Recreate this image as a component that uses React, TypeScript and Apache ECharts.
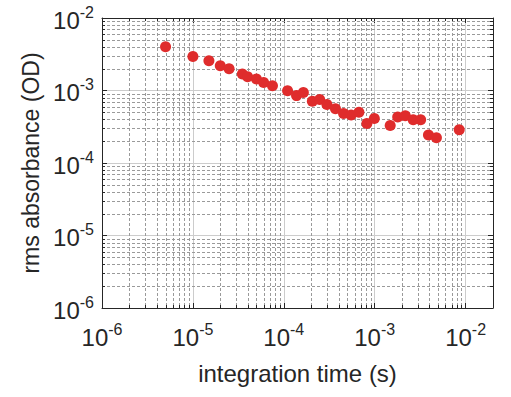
import React, { useEffect, useRef } from "react";
import * as echarts from "echarts";

const intTime = [5e-6, 1e-5, 1.5e-5, 2e-5, 2.5e-5, 3.5e-5, 4e-5, 5e-5, 6e-5, 7.5e-5, 1.1e-4, 1.38e-4, 1.64e-4, 2.06e-4, 2.48e-4, 2.98e-4, 3.7e-4, 4.54e-4, 5.5e-4, 6.7e-4, 8.2e-4, 9.9e-4, 1.48e-3, 1.79e-3, 2.17e-3, 2.65e-3, 3.2e-3, 3.9e-3, 4.77e-3, 8.5e-3];
const rmsAbs = [4.0e-3, 2.95e-3, 2.58e-3, 2.2e-3, 2.0e-3, 1.69e-3, 1.55e-3, 1.44e-3, 1.29e-3, 1.16e-3, 9.9e-4, 8.5e-4, 9.4e-4, 7.1e-4, 7.5e-4, 6.4e-4, 5.6e-4, 4.8e-4, 4.6e-4, 5.0e-4, 3.5e-4, 4.1e-4, 3.3e-4, 4.3e-4, 4.5e-4, 3.96e-4, 3.96e-4, 2.43e-4, 2.23e-4, 2.88e-4];

const xRange = [1e-6, 2e-2];
const yRange = [1e-6, 1e-2];
const xDecades = [1e-6, 1e-5, 1e-4, 1e-3, 1e-2];
const yDecades = [1e-6, 1e-5, 1e-4, 1e-3];
const minorMultipliers = [2, 3, 4, 5, 6, 7, 8, 9];

const FONT = "'Liberation Sans', Arial, sans-serif";
const TEXT = "#262626";

function labelFmt(v: number) {
  const l = Math.log10(v);
  const e = Math.round(l);
  if (Math.abs(l - e) > 1e-6) return "";
  return `{b|10}{s|${e}}`;
}

const richLabel = {
  b: { fontSize: 24, fontFamily: FONT, color: TEXT, lineHeight: 28, verticalAlign: "bottom" },
  s: { fontSize: 16, fontFamily: FONT, color: TEXT, lineHeight: 16, verticalAlign: "top" },
};

export default function App() {
  const ref = useRef<HTMLDivElement>(null);
  useEffect(() => {
    if (!ref.current) return;
    const chart = echarts.init(ref.current, undefined, { renderer: "svg" });

    const minorData: number[][] = [];
    xDecades.forEach((d) =>
      minorMultipliers.forEach((m) => {
        const v = d * m;
        if (v < xRange[1] * 0.999) minorData.push([v, 1e-4, 0]);
      })
    );
    yDecades.forEach((d) =>
      minorMultipliers.forEach((m) => {
        minorData.push([1e-4, d * m, 1]);
      })
    );

    const baseAxis = {
      type: "log" as const,
      logBase: 10,
      axisLine: { show: true, onZero: false, lineStyle: { color: TEXT, width: 1 } },
      axisTick: { show: true, inside: true, length: 5, lineStyle: { color: TEXT } },
      splitLine: { show: false },
      axisLabel: { show: false },
    };

    chart.setOption({
      animation: false,
      grid: { left: 102, right: 18, top: 18, bottom: 89, containLabel: false },
      xAxis: [
        {
          ...baseAxis,
          position: "bottom",
          min: xRange[0],
          max: xRange[1],
          splitLine: { show: true, lineStyle: { color: "#cccccc", width: 1 } },
          axisLabel: { show: true, formatter: labelFmt, rich: richLabel, margin: 13, hideOverlap: false },
          name: "integration time (s)",
          nameLocation: "middle",
          nameGap: 53,
          nameTextStyle: { fontSize: 24, fontFamily: FONT, color: TEXT },
        },
        { ...baseAxis, position: "top", min: xRange[0], max: xRange[1] },
      ],
      yAxis: [
        {
          ...baseAxis,
          position: "left",
          min: yRange[0],
          max: yRange[1],
          splitLine: { show: true, lineStyle: { color: "#cccccc", width: 1 } },
          axisLabel: { show: true, formatter: labelFmt, rich: richLabel, margin: 8, hideOverlap: false },
          name: "rms absorbance (OD)",
          nameLocation: "middle",
          nameGap: 34,
          nameTextStyle: { fontSize: 23, fontFamily: FONT, color: TEXT },
        },
        { ...baseAxis, position: "right", min: yRange[0], max: yRange[1] },
      ],
      series: [
        {
          type: "custom",
          z: 1,
          silent: true,
          clip: false,
          data: minorData,
          renderItem: (params: any, api: any) => {
            const cs = params.coordSys;
            const p = api.coord([api.value(0), api.value(1)]);
            const dash = { stroke: "#9a9a9a", lineWidth: 1, lineDash: [3, 2] };
            const tick = { stroke: TEXT, lineWidth: 1 };
            if (api.value(2) === 0) {
              const x = Math.round(p[0]) + 0.5;
              const y0 = cs.y, y1 = cs.y + cs.height;
              return {
                type: "group",
                children: [
                  { type: "line", shape: { x1: x, y1: y0, x2: x, y2: y1 }, style: dash },
                  { type: "line", shape: { x1: x, y1: y1, x2: x, y2: y1 - 3 }, style: tick },
                  { type: "line", shape: { x1: x, y1: y0, x2: x, y2: y0 + 3 }, style: tick },
                ],
              };
            }
            const y = Math.round(p[1]) + 0.5;
            const x0 = cs.x, x1 = cs.x + cs.width;
            return {
              type: "group",
              children: [
                { type: "line", shape: { x1: x0, y1: y, x2: x1, y2: y }, style: dash },
                { type: "line", shape: { x1: x0, y1: y, x2: x0 + 3, y2: y }, style: tick },
                { type: "line", shape: { x1: x1, y1: y, x2: x1 - 3, y2: y }, style: tick },
              ],
            };
          },
        },
        {
          type: "scatter",
          z: 3,
          symbol: "circle",
          symbolSize: 11,
          itemStyle: { color: "#df2c2c", opacity: 1 },
          data: intTime.map((t, i) => [t, rmsAbs[i]]),
        },
      ],
    });
    return () => chart.dispose();
  }, []);
  return <div ref={ref} style={{ position: "fixed", left: 0, top: 0, width: 511, height: 397, background: "#fff" }} />;
}
